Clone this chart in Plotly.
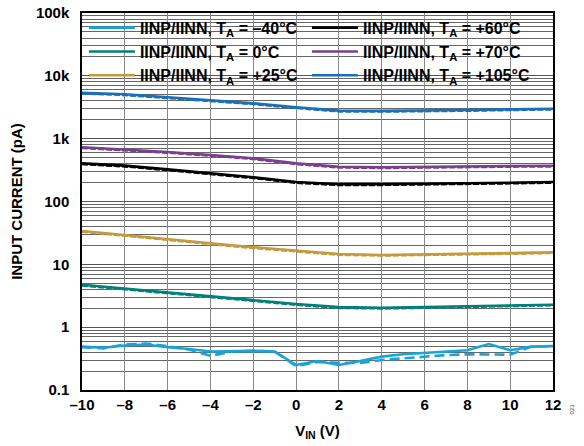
import plotly.graph_objects as go

vin = [-10, -9, -8, -7, -6, -5, -4, -3, -2, -1, 0, 1, 2, 3, 4, 5, 6, 7, 8, 9, 10, 11, 12]
vin_s = [-10, -8, -6, -4, -2, 0, 2, 4, 6, 8, 10, 12]

# -40 C (IINP solid, IINN dashed)
m40_p = [0.49, 0.47, 0.51, 0.53, 0.48, 0.45, 0.41, 0.42, 0.42, 0.41, 0.25, 0.29, 0.25, 0.29, 0.34, 0.37, 0.39, 0.40, 0.43, 0.54, 0.43, 0.49, 0.50]
m40_n = [0.48, 0.46, 0.53, 0.55, 0.50, 0.44, 0.35, 0.41, 0.42, 0.41, 0.24, 0.28, 0.27, 0.27, 0.30, 0.32, 0.34, 0.36, 0.37, 0.37, 0.365, 0.49, 0.50]

t0_p = [4.74, 4.10, 3.59, 3.13, 2.71, 2.34, 2.09, 2.04, 2.09, 2.15, 2.23, 2.28]
t0_n = [4.62, 4.00, 3.50, 3.05, 2.64, 2.28, 2.03, 1.99, 2.04, 2.10, 2.18, 2.24]
t25_p = [34.0, 29.0, 25.0, 21.6, 18.7, 16.3, 14.6, 14.1, 14.3, 14.6, 15.1, 15.5]
t25_n = [33.2, 28.3, 24.4, 21.1, 18.2, 15.9, 14.2, 13.8, 14.0, 14.3, 14.8, 15.2]
t60_p = [405, 372, 325, 281, 243, 204, 188, 188, 190, 195, 199, 204]
t60_n = [395, 362, 317, 274, 237, 199, 183, 184, 186, 190, 195, 200]
t70_p = [730, 678, 614, 550, 487, 405, 358, 350, 358, 362, 367, 370]
t70_n = [712, 662, 599, 537, 475, 395, 349, 342, 350, 354, 359, 362]
t105_p = [5390, 5080, 4550, 4130, 3650, 3160, 2790, 2770, 2790, 2860, 2930, 3000]
t105_n = [5260, 4960, 4440, 4030, 3560, 3080, 2720, 2700, 2720, 2790, 2860, 2930]

labels_col1 = ["–40°C", "0°C", "+25°C"]
labels_col2 = ["+60°C", "+70°C", "+105°C"]
colors = {"–40°C": "#1aa3d9", "0°C": "#00807a", "+25°C": "#c49a3a",
          "+60°C": "#000000", "+70°C": "#7a3f8f", "+105°C": "#1a70b8"}
series = {"–40°C": (vin, m40_p, m40_n), "0°C": (vin_s, t0_p, t0_n),
          "+25°C": (vin_s, t25_p, t25_n), "+60°C": (vin_s, t60_p, t60_n),
          "+70°C": (vin_s, t70_p, t70_n), "+105°C": (vin_s, t105_p, t105_n)}

ytick_vals = [0.1, 1, 10, 100, 1000, 10000, 100000]
ytick_text = ["0.1", "1", "10", "100", "1k", "10k", "100k"]
xtick_vals = [-10, -8, -6, -4, -2, 0, 2, 4, 6, 8, 10, 12]
xtick_text = ["–10", "–8", "–6", "–4", "–2", "0", "2", "4", "6", "8", "10", "12"]
minor_vals = [k * 10 ** e for e in range(-1, 5) for k in range(2, 10)]

fig = go.Figure()
for legname, labs in (("legend", labels_col1), ("legend2", labels_col2)):
    for rank, lab in enumerate(labs):
        xs, yp, yn = series[lab]
        c = colors[lab]
        dash = "10px,5px" if lab == "–40°C" else "6px,2px"
        fig.add_trace(go.Scatter(x=xs, y=yn, mode="lines", showlegend=False,
                                 line=dict(color=c, width=2.6, dash=dash)))
        fig.add_trace(go.Scatter(x=xs, y=yp, mode="lines", legendrank=rank + 1,
                                 legend=legname,
                                 name="IINP/IINN, T<sub>A</sub> = " + lab,
                                 line=dict(color=c, width=2.6)))

font = "Liberation Sans, Arial, sans-serif"
legfont = dict(family=font, size=16, color="black", weight="bold")
fig.update_layout(
    width=584, height=446,
    margin=dict(l=82, r=31, t=13, b=56, autoexpand=False),
    paper_bgcolor="white", plot_bgcolor="white",
    font=dict(family=font, size=14, color="black"),
    showlegend=True,
    legend=dict(x=0.004, y=1.006, xanchor="left", yanchor="top",
                bgcolor="rgba(0,0,0,0)", font=legfont, itemwidth=46,
                tracegroupgap=0, borderwidth=0),
    legend2=dict(x=0.4775, y=1.006, xanchor="left", yanchor="top",
                 bgcolor="rgba(0,0,0,0)", font=legfont, itemwidth=46,
                 tracegroupgap=0, borderwidth=0),
    shapes=[dict(type="rect", xref="paper", yref="paper", x0=0.003, x1=0.975,
                 y0=0.815, y1=0.997, fillcolor="white", line=dict(width=0),
                 layer="between")],
    xaxis=dict(range=[-10, 12], tickmode="array", tickvals=xtick_vals, ticktext=xtick_text,
               showgrid=True, gridcolor="#888888", gridwidth=1.2,
               showline=True, linecolor="black", linewidth=1.5, mirror=True,
               ticks="", ticklen=0, automargin=False,
               tickfont=dict(size=15, weight="bold"),
               title=dict(text="V<sub>IN</sub> (V)", font=dict(size=15, weight="bold"), standoff=14),
               zeroline=False),
    yaxis=dict(type="log", range=[-1, 5], tickmode="array", tickvals=ytick_vals, ticktext=ytick_text,
               showgrid=True, gridcolor="#555555", gridwidth=1,
               minor=dict(tickmode="array", tickvals=minor_vals, showgrid=True,
                          gridcolor="#666666", gridwidth=1, ticks=""),
               showline=True, linecolor="black", linewidth=1.5, mirror=True,
               ticks="", ticklabelstandoff=8, automargin=False,
               tickfont=dict(size=15, weight="bold"),
               title=dict(text="INPUT CURRENT (pA)", font=dict(size=15, weight="bold"), standoff=10),
               zeroline=False),
    annotations=[dict(text="023", xref="paper", yref="paper", x=1.05, y=-0.07,
                      showarrow=False, textangle=-90, font=dict(size=6, color="#444444"))],
)

fig.write_html("out.html", config={"displayModeBar": False},
               post_script="document.body.style.margin='0';document.body.style.padding='0';")
